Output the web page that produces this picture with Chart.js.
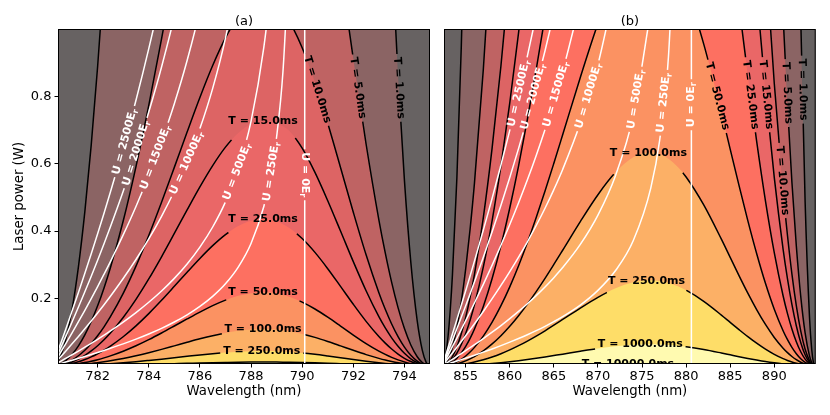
<!DOCTYPE html>
<html>
<head>
<meta charset="utf-8">
<script src="https://cdn.jsdelivr.net/npm/chart.js@4.4.0/dist/chart.umd.min.js"></script>
<style>
  body { margin: 0; background: #fff; }
  #wrap { position: relative; width: 830px; height: 415px; }
  canvas { position: absolute; top: 0; }
</style>
</head>
<body>
<div id="wrap">
  <canvas id="chartA" width="436" height="415" style="left:0px"></canvas>
  <canvas id="chartB" width="394" height="415" style="left:436px"></canvas>
</div>
<script>
// ---- panel (a): Rb, 780-795 nm ----------------------------------------
const wlA = [780.45, 780.5, 780.6, 780.75, 781, 781.25, 781.5, 781.75, 782, 782.25, 782.5, 783, 783.5, 784, 784.5,
  785, 785.5, 786, 786.5, 787, 787.5, 788, 788.5, 788.75, 789, 789.25, 789.5, 790, 790.5, 791, 791.5, 792, 792.5,
  793, 793.25, 793.5, 793.75, 794, 794.25, 794.5, 794.7, 794.85, 794.95];

// lifetime contours T (ms): laser power (W) at each wavelength of wlA
const tA1 = [0.0128, 0.0196, 0.0375, 0.0753, 0.167, 0.2945, 0.4576, 0.6558, 0.8886, 1.155, 1.455, 2.148, 2.957, 3.866, 4.853,
  5.89, 6.941, 7.966, 8.915, 9.736, 10.37, 10.77, 10.9, 10.85, 10.72, 10.51, 10.23, 9.442, 8.413, 7.202, 5.888, 4.557, 3.292,
  2.166, 1.674, 1.237, 0.862, 0.5505, 0.3069, 0.1331, 0.0454, 0.0098, 0.0005];
const tA5 = [0.0026, 0.0039, 0.0075, 0.0151, 0.0334, 0.0589, 0.0915, 0.1312, 0.1777, 0.231, 0.291, 0.4296, 0.5914, 0.7732, 0.9706,
  1.178, 1.388, 1.593, 1.783, 1.947, 2.074, 2.154, 2.18, 2.17, 2.144, 2.102, 2.046, 1.888, 1.683, 1.44, 1.178, 0.9114, 0.6584,
  0.4332, 0.3348, 0.2474, 0.1724, 0.1101, 0.0614, 0.0266, 0.0091, 0.002, 0.0001];
const tA10 = [0.0013, 0.002, 0.0038, 0.0075, 0.0167, 0.0295, 0.0458, 0.0656, 0.0889, 0.1155, 0.1455, 0.2148, 0.2957, 0.3866, 0.4853,
  0.589, 0.6941, 0.7966, 0.8915, 0.9736, 1.037, 1.077, 1.09, 1.085, 1.072, 1.051, 1.023, 0.9442, 0.8413, 0.7202, 0.5888, 0.4557, 0.3292,
  0.2166, 0.1674, 0.1237, 0.0862, 0.0551, 0.0307, 0.0133, 0.0045, 0.001, 0.0001];
const tA15 = [0.0009, 0.0013, 0.0025, 0.005, 0.0111, 0.0196, 0.0305, 0.0437, 0.0592, 0.077, 0.097, 0.1432, 0.1971, 0.2577, 0.3235,
  0.3927, 0.4627, 0.5311, 0.5943, 0.6491, 0.6913, 0.718, 0.7267, 0.7245, 0.719, 0.711, 0.697, 0.646, 0.574, 0.49, 0.4, 0.309, 0.2225,
  0.1455, 0.1121, 0.0827, 0.0576, 0.0367, 0.0205, 0.0089, 0.003, 0.0007, 0];
const tA25 = [0.0005, 0.0008, 0.0015, 0.003, 0.0067, 0.0118, 0.0183, 0.0262, 0.0355, 0.0462, 0.0582, 0.0859, 0.1183, 0.1546, 0.1941,
  0.2356, 0.2776, 0.3186, 0.3566, 0.3894, 0.4148, 0.4308, 0.436, 0.434, 0.4288, 0.4204, 0.4092, 0.3777, 0.3365, 0.2881, 0.2355, 0.1823, 0.1317,
  0.0866, 0.067, 0.0495, 0.0345, 0.022, 0.0123, 0.0053, 0.0018, 0.0004, 0];
const tA50 = [0.0003, 0.0004, 0.0008, 0.0015, 0.0033, 0.0059, 0.0092, 0.0131, 0.0178, 0.0231, 0.0291, 0.043, 0.0591, 0.0773, 0.0971,
  0.1178, 0.1388, 0.1593, 0.1783, 0.1947, 0.2074, 0.2154, 0.218, 0.217, 0.2144, 0.2102, 0.2046, 0.1888, 0.1683, 0.144, 0.1178, 0.0911, 0.0658,
  0.0433, 0.0335, 0.0247, 0.0172, 0.011, 0.0061, 0.0027, 0.0009, 0.0002, 0];
const tA100 = [0.0001, 0.0002, 0.0004, 0.0008, 0.0017, 0.0029, 0.0046, 0.0066, 0.0089, 0.0116, 0.0146, 0.0215, 0.0296, 0.0387, 0.0485,
  0.0589, 0.0694, 0.0797, 0.0892, 0.0974, 0.1037, 0.1077, 0.109, 0.1085, 0.1072, 0.1051, 0.1023, 0.0944, 0.0841, 0.072, 0.0589, 0.0456, 0.0329,
  0.0217, 0.0167, 0.0124, 0.0086, 0.0055, 0.0031, 0.0013, 0.0005, 0.0001, 0];
const tA250 = [0.0001, 0.0001, 0.0002, 0.0003, 0.0007, 0.0012, 0.0018, 0.0026, 0.0036, 0.0046, 0.0058, 0.0086, 0.0118, 0.0155, 0.0194,
  0.0236, 0.0278, 0.0319, 0.0357, 0.0389, 0.0415, 0.0431, 0.0436, 0.0434, 0.0429, 0.042, 0.0409, 0.0378, 0.0337, 0.0288, 0.0236, 0.0182, 0.0132,
  0.0087, 0.0067, 0.0049, 0.0034, 0.0022, 0.0012, 0.0005, 0.0002, 0, 0];
const tA1000 = [0, 0, 0, 0.0001, 0.0002, 0.0003, 0.0005, 0.0007, 0.0009, 0.0012, 0.0015, 0.0021, 0.003, 0.0039, 0.0049,
  0.0059, 0.0069, 0.008, 0.0089, 0.0097, 0.0104, 0.0108, 0.0109, 0.0108, 0.0107, 0.0105, 0.0102, 0.0094, 0.0084, 0.0072, 0.0059, 0.0046, 0.0033,
  0.0022, 0.0017, 0.0012, 0.0009, 0.0006, 0.0003, 0.0001, 0, 0, 0];

// trap depth contours U (E_r): power along the first wavelengths of wlA
const uA2500 = [0.0439, 0.0544, 0.0756, 0.1078, 0.1621, 0.2176, 0.2743, 0.3323, 0.3917, 0.4528, 0.5156, 0.6473, 0.7884, 0.9416, 1.109, 1.297];
const uA2000 = [0.0351, 0.0436, 0.0605, 0.0862, 0.1297, 0.1741, 0.2194, 0.2659, 0.3134, 0.3623, 0.4125, 0.5179, 0.6307, 0.7533, 0.8873, 1.0373, 1.2085];
const uA1500 = [0.0263, 0.0327, 0.0454, 0.0647, 0.0973, 0.1306, 0.1646, 0.1994, 0.235, 0.2717, 0.3093, 0.3884, 0.473, 0.565, 0.6655, 0.778, 0.9063, 1.0563, 1.2356];
const uA1000 = [0.0176, 0.0218, 0.0303, 0.0431, 0.0648, 0.087, 0.1097, 0.1329, 0.1567, 0.1811, 0.2062, 0.2589, 0.3154, 0.3766, 0.4437, 0.5187, 0.6042, 0.7042, 0.8237, 0.9728, 1.171];
const uA500 = [0.0088, 0.0109, 0.0151, 0.0216, 0.0324, 0.0435, 0.0549, 0.0665, 0.0783, 0.0906, 0.1031, 0.1295, 0.1577, 0.1883, 0.2218, 0.2593, 0.3021, 0.3521, 0.4119, 0.4864, 0.5855, 0.7257, 0.9452, 1.114, 1.3587];
const uA250 = [0.0044, 0.0054, 0.0076, 0.0108, 0.0162, 0.0218, 0.0274, 0.0332, 0.0392, 0.0453, 0.0516, 0.0647, 0.0788, 0.0942, 0.1109, 0.1297, 0.1511, 0.1761, 0.2059, 0.2432, 0.2927, 0.3628, 0.4726, 0.557, 0.6793, 0.8744, 1.239];
const u0A = 790.1;   // U = 0 (tune-out) wavelength

// ---- panel (b): Cs, 852-895 nm ----------------------------------------
const wlB = [852.54, 852.6, 852.75, 853, 853.25, 853.5, 854, 854.5, 855, 855.5, 856, 857, 858, 859, 860, 861, 862, 863, 864, 865,
  866, 868, 870, 872, 874, 876, 877, 878, 879, 880, 882, 884, 885, 886, 887, 888, 889, 890, 891, 891.5, 892, 892.5, 893, 893.5,
  894, 894.25, 894.45, 894.55];

const tB1 = [0.0074, 0.0128, 0.0328, 0.0866, 0.166, 0.271, 0.5577, 0.9463, 1.437, 2.028, 2.719, 4.399, 6.467, 8.909, 11.71, 14.84, 18.29, 22.01, 25.93, 30.06,
  34.29, 42.8, 50.78, 57.42, 61.88, 63.37, 62.85, 61.44, 59.16, 56.06, 47.76, 37.57, 32.16, 26.77, 21.55, 16.67, 12.24, 8.389, 5.195, 3.867, 2.727, 1.781, 1.033, 0.4864,
  0.1427, 0.0474, 0.008, 0.0007];
const tB5 = [0.0015, 0.0026, 0.0066, 0.0173, 0.0332, 0.0542, 0.1115, 0.1893, 0.2873, 0.4056, 0.5438, 0.8798, 1.293, 1.782, 2.342, 2.968, 3.658, 4.402, 5.186, 6.012,
  6.858, 8.56, 10.16, 11.48, 12.38, 12.67, 12.57, 12.29, 11.83, 11.21, 9.552, 7.514, 6.432, 5.354, 4.31, 3.334, 2.448, 1.678, 1.039, 0.7734, 0.5454, 0.3562, 0.2066, 0.0973,
  0.0285, 0.0095, 0.0016, 0.0001];
const tB10 = [0.0007, 0.0013, 0.0033, 0.0087, 0.0166, 0.0271, 0.0558, 0.0946, 0.1437, 0.2028, 0.2719, 0.4399, 0.6467, 0.8909, 1.171, 1.484, 1.829, 2.201, 2.593, 3.006,
  3.429, 4.28, 5.078, 5.742, 6.188, 6.337, 6.285, 6.144, 5.916, 5.606, 4.776, 3.757, 3.216, 2.677, 2.155, 1.667, 1.224, 0.8389, 0.5195, 0.3867, 0.2727, 0.1781, 0.1033, 0.0486,
  0.0143, 0.0047, 0.0008, 0.0001];
const tB15 = [0.0005, 0.0009, 0.0022, 0.0058, 0.0111, 0.0181, 0.0372, 0.0631, 0.0958, 0.1352, 0.1813, 0.2933, 0.4311, 0.5939, 0.7807, 0.9893, 1.219, 1.467, 1.729, 2.004,
  2.286, 2.853, 3.385, 3.828, 4.125, 4.225, 4.19, 4.096, 3.944, 3.737, 3.184, 2.505, 2.144, 1.785, 1.437, 1.111, 0.816, 0.5593, 0.3463, 0.2578, 0.1818, 0.1187, 0.0689, 0.0324,
  0.0095, 0.0032, 0.0005, 0];
const tB25 = [0.0003, 0.0005, 0.0013, 0.0035, 0.0066, 0.0108, 0.0223, 0.0379, 0.0575, 0.0811, 0.1088, 0.176, 0.2587, 0.3564, 0.4684, 0.5936, 0.7316, 0.8804, 1.037, 1.202,
  1.372, 1.712, 2.031, 2.297, 2.475, 2.535, 2.514, 2.458, 2.366, 2.242, 1.91, 1.503, 1.286, 1.071, 0.862, 0.6668, 0.4896, 0.3356, 0.2078, 0.1547, 0.1091, 0.0712, 0.0413, 0.0195,
  0.0057, 0.0019, 0.0003, 0];
const tB50 = [0.0001, 0.0003, 0.0007, 0.0017, 0.0033, 0.0054, 0.0112, 0.0189, 0.0287, 0.0406, 0.0544, 0.088, 0.1293, 0.1782, 0.2342, 0.2968, 0.3658, 0.4402, 0.5186, 0.6012,
  0.6858, 0.856, 1.016, 1.148, 1.238, 1.267, 1.257, 1.229, 1.183, 1.121, 0.9552, 0.7514, 0.6432, 0.5354, 0.431, 0.3334, 0.2448, 0.1678, 0.1039, 0.0773, 0.0545, 0.0356, 0.0207, 0.0097,
  0.0029, 0.0009, 0.0002, 0];
const tB100 = [0.0001, 0.0001, 0.0003, 0.0009, 0.0017, 0.0027, 0.0056, 0.0095, 0.0144, 0.0203, 0.0272, 0.044, 0.0647, 0.0891, 0.1171, 0.1484, 0.1829, 0.2201, 0.2593, 0.3006,
  0.3429, 0.428, 0.5078, 0.5742, 0.6188, 0.6337, 0.6285, 0.6144, 0.5916, 0.5606, 0.4776, 0.3757, 0.3216, 0.2677, 0.2155, 0.1667, 0.1224, 0.0839, 0.052, 0.0387, 0.0273, 0.0178, 0.0103, 0.0049,
  0.0014, 0.0005, 0.0001, 0];
const tB250 = [0, 0.0001, 0.0001, 0.0003, 0.0007, 0.0011, 0.0022, 0.0038, 0.0057, 0.0081, 0.0109, 0.0176, 0.0259, 0.0356, 0.0468, 0.0594, 0.0732, 0.088, 0.1037, 0.1202,
  0.1372, 0.1712, 0.2031, 0.2297, 0.2475, 0.2535, 0.2514, 0.2458, 0.2366, 0.2242, 0.191, 0.1503, 0.1286, 0.1071, 0.0862, 0.0667, 0.049, 0.0336, 0.0208, 0.0155, 0.0109, 0.0071, 0.0041, 0.0019,
  0.0006, 0.0002, 0, 0];
const tB1000 = [0, 0, 0, 0.0001, 0.0002, 0.0003, 0.0006, 0.0009, 0.0014, 0.002, 0.0027, 0.0044, 0.0065, 0.0089, 0.0117, 0.0148, 0.0183, 0.022, 0.0259, 0.0301,
  0.0343, 0.0428, 0.0508, 0.0574, 0.0619, 0.0634, 0.0629, 0.0614, 0.0592, 0.0561, 0.0478, 0.0376, 0.0322, 0.0268, 0.0216, 0.0167, 0.0122, 0.0084, 0.0052, 0.0039, 0.0027, 0.0018, 0.001, 0.0005,
  0.0001, 0, 0, 0];
const tB10000 = [0, 0, 0, 0, 0, 0, 0.0001, 0.0001, 0.0001, 0.0002, 0.0003, 0.0004, 0.0006, 0.0009, 0.0012, 0.0015, 0.0018, 0.0022, 0.0026, 0.003,
  0.0034, 0.0043, 0.0051, 0.0057, 0.0062, 0.0063, 0.0063, 0.0061, 0.0059, 0.0056, 0.0048, 0.0038, 0.0032, 0.0027, 0.0022, 0.0017, 0.0012, 0.0008, 0.0005, 0.0004, 0.0003, 0.0002, 0.0001, 0,
  0, 0, 0, 0];

const uB2500 = [0.0155, 0.0204, 0.0327, 0.0532, 0.0739, 0.0948, 0.1368, 0.1795, 0.2228, 0.2666, 0.3113, 0.4027, 0.4975, 0.596, 0.6989, 0.8067, 0.9201, 1.0408, 1.1693];
const uB2000 = [0.0124, 0.0163, 0.0261, 0.0426, 0.0591, 0.0758, 0.1095, 0.1436, 0.1782, 0.2133, 0.249, 0.3222, 0.398, 0.4768, 0.5591, 0.6454, 0.7361, 0.8326, 0.9355, 1.046, 1.1655];
const uB1500 = [0.0093, 0.0122, 0.0196, 0.0319, 0.0444, 0.0569, 0.0821, 0.1077, 0.1337, 0.16, 0.1868, 0.2416, 0.2985, 0.3576, 0.4193, 0.484, 0.5521, 0.6245, 0.7016, 0.7845, 0.8741, 1.0807];
const uB1000 = [0.0062, 0.0081, 0.0131, 0.0213, 0.0296, 0.0379, 0.0547, 0.0718, 0.0891, 0.1066, 0.1245, 0.1611, 0.199, 0.2384, 0.2796, 0.3227, 0.368, 0.4163, 0.4677, 0.523, 0.5828, 0.7205, 0.8948, 1.1302];
const uB500 = [0.0031, 0.0041, 0.0065, 0.0106, 0.0148, 0.019, 0.0274, 0.0359, 0.0446, 0.0533, 0.0623, 0.0805, 0.0995, 0.1192, 0.1398, 0.1613, 0.184, 0.2082, 0.2339, 0.2615, 0.2914, 0.3602, 0.4474, 0.5651, 0.7418, 1.056];
const uB250 = [0.0015, 0.002, 0.0033, 0.0053, 0.0074, 0.0095, 0.0137, 0.018, 0.0223, 0.0267, 0.0311, 0.0403, 0.0497, 0.0596, 0.0699, 0.0807, 0.092, 0.1041, 0.1169, 0.1308, 0.1457, 0.1801, 0.2237, 0.2826, 0.3709, 0.528, 0.669, 0.9184, 1.49];
const u0B = 880.6;

// ---- axes ---------------------------------------------------------------
const xTicksA = [782, 784, 786, 788, 790, 792, 794];
const xTicksB = [855, 860, 865, 870, 875, 880, 885, 890];
const yTicks = [0.2, 0.4, 0.6, 0.8];
const yMin = 0.005, yMax = 1.0;

// colour of the region with lifetime above each level
const levelColor = {1: '#8b6464', 5: '#bf6363', 10: '#dd6464', 15: '#ea6767', 25: '#fd7061', 50: '#fb9262',
  100: '#fcb066', 250: '#fedd68', 1000: '#fffab0', 10000: '#ffffd8'};
const bgColor = '#676262';

// contour labels: which curve, rough spot (wavelength, power), text
const labelsA = [
  {line: 'U2500', at: [783.03, 0.666], text: 'U = 2500E', sub: 'r', color: '#fff'},
  {line: 'U2000', at: [783.46, 0.632], text: 'U = 2000E', sub: 'r', color: '#fff'},
  {line: 'U1500', at: [784.18, 0.621], text: 'U = 1500E', sub: 'r', color: '#fff'},
  {line: 'U1000', at: [785.48, 0.602], text: 'U = 1000E', sub: 'r', color: '#fff'},
  {line: 'U500', at: [787.57, 0.573], text: 'U = 500E', sub: 'r', color: '#fff'},
  {line: 'U250', at: [788.82, 0.576], text: 'U = 250E', sub: 'r', color: '#fff'},
  {line: 'U0', at: [790.1, 0.567], text: 'U = 0E', sub: 'r', color: '#fff', rot: 90},
  {line: 'T15', at: [788.47, 0.727], text: 'T = 15.0ms', color: '#000', rot: 0},
  {line: 'T25', at: [788.47, 0.436], text: 'T = 25.0ms', color: '#000', rot: 0},
  {line: 'T50', at: [788.47, 0.218], text: 'T = 50.0ms', color: '#000', rot: 0},
  {line: 'T100', at: [788.47, 0.109], text: 'T = 100.0ms', color: '#000', rot: 0},
  {line: 'T250', at: [788.42, 0.0436], text: 'T = 250.0ms', color: '#000', rot: 0},
  {line: 'T10', at: [790.6, 0.82], text: 'T = 10.0ms', color: '#000'},
  {line: 'T5', at: [792.2, 0.825], text: 'T = 5.0ms', color: '#000'},
  {line: 'T1', at: [793.8, 0.825], text: 'T = 1.0ms', color: '#000'}
];
const labelsB = [
  {line: 'U2500', at: [860.78, 0.81], text: 'U = 2500E', sub: 'r', color: '#fff'},
  {line: 'U2000', at: [862.49, 0.80], text: 'U = 2000E', sub: 'r', color: '#fff'},
  {line: 'U1500', at: [865.32, 0.805], text: 'U = 1500E', sub: 'r', color: '#fff'},
  {line: 'U1000', at: [869.1, 0.80], text: 'U = 1000E', sub: 'r', color: '#fff'},
  {line: 'U500', at: [874.58, 0.79], text: 'U = 500E', sub: 'r', color: '#fff'},
  {line: 'U250', at: [877.8, 0.78], text: 'U = 250E', sub: 'r', color: '#fff'},
  {line: 'U0', at: [880.6, 0.775], text: 'U = 0E', sub: 'r', color: '#fff', rot: -90},
  {line: 'T100', at: [875.7, 0.634], text: 'T = 100.0ms', color: '#000', rot: 0},
  {line: 'T250', at: [875.5, 0.2535], text: 'T = 250.0ms', color: '#000', rot: 0},
  {line: 'T1000', at: [874.8, 0.0634], text: 'T = 1000.0ms', color: '#000', rot: 0},
  {line: 'T10000', at: [873.4, 0.0063], text: 'T = 10000.0ms', color: '#000', rot: 0},
  {line: 'T50', at: [883.5, 0.80], text: 'T = 50.0ms', color: '#000'},
  {line: 'T25', at: [887.4, 0.805], text: 'T = 25.0ms', color: '#000'},
  {line: 'T15', at: [889.1, 0.805], text: 'T = 15.0ms', color: '#000'},
  {line: 'T10', at: [891.0, 0.55], text: 'T = 10.0ms', color: '#000'},
  {line: 'T5', at: [891.6, 0.81], text: 'T = 5.0ms', color: '#000'},
  {line: 'T1', at: [893.4, 0.82], text: 'T = 1.0ms', color: '#000'}
];

Chart.defaults.font.family = "'DejaVu Sans', sans-serif";
Chart.defaults.color = '#000';

const mainFont = "bold 11px 'DejaVu Sans'";
const subFont = "bold 8px 'DejaVu Sans'";

function series(wl, vals) {
  return vals.map((v, i) => ({x: wl[i], y: v}));
}

// put a label on its curve, angle taken from the nearest drawn segment
function labelGeo(chart, lb) {
  const xs = chart.scales.x, ys = chart.scales.y;
  const ds = chart.data.datasets.find(d => d.curve === lb.line);
  const ax = xs.getPixelForValue(lb.at[0]), ay = ys.getPixelForValue(lb.at[1]);
  const pts = ds.data.map(p => [xs.getPixelForValue(p.x), ys.getPixelForValue(p.y)]);
  let best = {d: Infinity, x: ax, y: ay, ang: 0, seg: 0};
  for (let i = 0; i + 1 < pts.length; i++) {
    const [x1, y1] = pts[i], [x2, y2] = pts[i + 1];
    const dx = x2 - x1, dy = y2 - y1, L2 = dx * dx + dy * dy;
    if (!L2) continue;
    let t = ((ax - x1) * dx + (ay - y1) * dy) / L2;
    t = Math.max(0, Math.min(1, t));
    const px = x1 + t * dx, py = y1 + t * dy;
    const d = Math.hypot(ax - px, ay - py);
    if (d < best.d) best = {d, x: px, y: py, ang: Math.atan2(dy, dx), seg: i};
  }
  let ang = best.ang;
  if (ang > Math.PI / 2) ang -= Math.PI;
  if (ang < -Math.PI / 2) ang += Math.PI;
  if (lb.rot !== undefined) ang = lb.rot * Math.PI / 180;
  const ctx = chart.ctx;
  ctx.save();
  ctx.font = mainFont;
  const w1 = ctx.measureText(lb.text).width;
  ctx.font = subFont;
  const w2 = lb.sub ? ctx.measureText(lb.sub).width : 0;
  ctx.restore();
  return {cx: best.x, cy: best.y, ang, w1, w2, seg: best.seg, pts};
}

// stretch of the curve (by arc length) that the label takes out
function cutStretch(g, half) {
  const P = [g.cx, g.cy];
  const walk = (dir) => {
    const out = [];
    let cur = P, rem = half, j = dir > 0 ? g.seg + 1 : g.seg;
    while (j >= 0 && j < g.pts.length) {
      const q = g.pts[j];
      const d = Math.hypot(q[0] - cur[0], q[1] - cur[1]);
      if (d >= rem) {
        out.push([cur[0] + (q[0] - cur[0]) * rem / d, cur[1] + (q[1] - cur[1]) * rem / d]);
        return out;
      }
      rem -= d;
      cur = q;
      out.push(q);
      j += dir;
    }
    return out;
  };
  return walk(-1).reverse().concat([P], walk(1));
}

function tubePath(ctx, path, hw) {
  const n = path.length;
  if (n < 2) return;
  const left = [], right = [];
  for (let k = 0; k < n; k++) {
    const a = path[Math.max(0, k - 1)], b = path[Math.min(n - 1, k + 1)];
    let dx = b[0] - a[0], dy = b[1] - a[1];
    const L = Math.hypot(dx, dy) || 1;
    dx /= L; dy /= L;
    left.push([path[k][0] - dy * hw, path[k][1] + dx * hw]);
    right.push([path[k][0] + dy * hw, path[k][1] - dx * hw]);
  }
  ctx.moveTo(left[0][0], left[0][1]);
  for (let k = 1; k < n; k++) ctx.lineTo(left[k][0], left[k][1]);
  for (let k = n - 1; k >= 0; k--) ctx.lineTo(right[k][0], right[k][1]);
  ctx.closePath();
}

function makeDeco(title, labels) {
  return {
    id: 'deco',
    beforeDraw(chart) {
      const {ctx, chartArea: a} = chart;
      ctx.save();
      ctx.fillStyle = bgColor;
      ctx.fillRect(a.left, a.top, a.width, a.height);
      ctx.restore();
    },
    // break each contour line where its own label sits
    beforeDatasetDraw(chart, args) {
      const ds = chart.data.datasets[args.index];
      if (!ds.cuts || !ds.cuts.length) return;
      const {ctx, chartArea: a} = chart;
      ctx.save();
      ctx.beginPath();
      ctx.rect(a.left - 10, a.top - 10, a.width + 20, a.height + 20);
      ds.cuts.forEach(lb => {
        const g = labelGeo(chart, lb);
        tubePath(ctx, cutStretch(g, (g.w1 + g.w2) / 2 + 3), 4);
      });
      ctx.clip('evenodd');
    },
    afterDatasetDraw(chart, args) {
      const ds = chart.data.datasets[args.index];
      if (ds.cuts && ds.cuts.length) chart.ctx.restore();
    },
    afterDatasetsDraw(chart) {
      const {ctx, chartArea: a} = chart;
      ctx.save();
      ctx.beginPath();
      ctx.rect(a.left, a.top, a.width, a.height);
      ctx.clip();
      labels.forEach(lb => {
        const g = labelGeo(chart, lb);
        ctx.save();
        ctx.translate(g.cx, g.cy);
        ctx.rotate(g.ang);
        ctx.fillStyle = lb.color;
        ctx.textAlign = 'left';
        ctx.textBaseline = 'middle';
        const x0 = -(g.w1 + g.w2) / 2;
        ctx.font = mainFont;
        ctx.fillText(lb.text, x0, 0);
        if (lb.sub) {
          ctx.font = subFont;
          ctx.fillText(lb.sub, x0 + g.w1, 3);
        }
        ctx.restore();
      });
      ctx.restore();
    },
    afterDraw(chart) {
      const {ctx, chartArea: a} = chart;
      ctx.save();
      ctx.strokeStyle = '#000';
      ctx.lineWidth = 1;
      ctx.strokeRect(a.left + 0.5, a.top + 0.5, a.width - 1, a.height - 1);
      ctx.fillStyle = '#000';
      ctx.font = "13px 'DejaVu Sans'";
      ctx.textAlign = 'center';
      ctx.textBaseline = 'alphabetic';
      ctx.fillText(title, (a.left + a.right) / 2, 24.8);
      ctx.restore();
    }
  };
}

function makePanel(id, p) {
  const datasets = [];
  p.levels.forEach((lv, i) => {
    datasets.push({
      curve: 'F' + lv, data: series(p.wl, p.t[lv]), fill: 'origin',
      backgroundColor: levelColor[lv], borderColor: 'rgba(0,0,0,0)', borderWidth: 0,
      cubicInterpolationMode: 'monotone', order: 100 - i
    });
  });
  p.levels.forEach(lv => {
    datasets.push({
      curve: 'T' + lv, data: series(p.wl, p.t[lv]), fill: false,
      borderColor: '#000', borderWidth: 1.5, cubicInterpolationMode: 'monotone', order: 20,
      cuts: p.labels.filter(l => l.line === 'T' + lv)
    });
  });
  Object.keys(p.u).forEach(u => {
    datasets.push({
      curve: 'U' + u, data: series(p.wl, p.u[u]), fill: false,
      borderColor: '#fff', borderWidth: 1.5, cubicInterpolationMode: 'monotone', order: 10,
      cuts: p.labels.filter(l => l.line === 'U' + u)
    });
  });
  datasets.push({
    curve: 'U0', data: [{x: p.u0, y: yMin}, {x: p.u0, y: yMax}], fill: false,
    borderColor: '#fff', borderWidth: 1.5, tension: 0, order: 10,
    cuts: p.labels.filter(l => l.line === 'U0')
  });

  return new Chart(document.getElementById(id), {
    type: 'line',
    data: {datasets},
    options: {
      responsive: false,
      animation: false,
      events: [],
      layout: {padding: {left: 0, right: p.padRight, top: 29, bottom: 0}},
      elements: {point: {radius: 0}, line: {capBezierPoints: false}},
      plugins: {legend: {display: false}, tooltip: {enabled: false}},
      scales: {
        x: {
          type: 'linear', min: p.xMin, max: p.xMax,
          afterBuildTicks: s => { s.ticks = p.xTicks.map(v => ({value: v})); },
          afterFit: s => { s.height = 51; },
          ticks: {autoSkip: false, maxRotation: 0, padding: 1, color: '#000', font: {size: 13}, callback: v => String(v)},
          grid: {display: true, drawOnChartArea: false, drawTicks: true, tickLength: 3.5, color: '#000'},
          border: {display: false},
          title: {display: true, text: 'Wavelength (nm)', color: '#000', font: {size: 13.3}, padding: {top: 0, bottom: 15.4}}
        },
        y: {
          type: 'linear', min: yMin, max: yMax,
          afterBuildTicks: s => { s.ticks = yTicks.map(v => ({value: v})); },
          afterFit: s => { s.width = p.yWidth; },
          ticks: {display: p.yLabels, padding: 3, color: '#000', font: {size: 13}, callback: v => v.toFixed(1)},
          grid: {display: p.yLabels, drawOnChartArea: false, drawTicks: true, tickLength: 3.5, color: '#000'},
          border: {display: false},
          title: {display: p.yLabels, text: 'Laser power (W)', color: '#000', font: {size: 13.3}, padding: {top: 12, bottom: 0}}
        }
      }
    },
    plugins: [makeDeco(p.title, p.labels)]
  });
}

makePanel('chartA', {
  wl: wlA, levels: [1, 5, 10, 15, 25, 50, 100, 250, 1000],
  t: {1: tA1, 5: tA5, 10: tA10, 15: tA15, 25: tA25, 50: tA50, 100: tA100, 250: tA250, 1000: tA1000},
  u: {2500: uA2500, 2000: uA2000, 1500: uA1500, 1000: uA1000, 500: uA500, 250: uA250}, u0: u0A,
  xMin: 780.45, xMax: 795.0, xTicks: xTicksA, labels: labelsA, title: '(a)',
  yLabels: true, yWidth: 58, padRight: 6
});

makePanel('chartB', {
  wl: wlB, levels: [1, 5, 10, 15, 25, 50, 100, 250, 1000, 10000],
  t: {1: tB1, 5: tB5, 10: tB10, 15: tB15, 25: tB25, 50: tB50, 100: tB100, 250: tB250, 1000: tB1000, 10000: tB10000},
  u: {2500: uB2500, 2000: uB2000, 1500: uB1500, 1000: uB1000, 500: uB500, 250: uB250}, u0: u0B,
  xMin: 852.54, xMax: 894.7, xTicks: xTicksB, labels: labelsB, title: '(b)',
  yLabels: false, yWidth: 8, padRight: 14.3
});
</script>
</body>
</html>
